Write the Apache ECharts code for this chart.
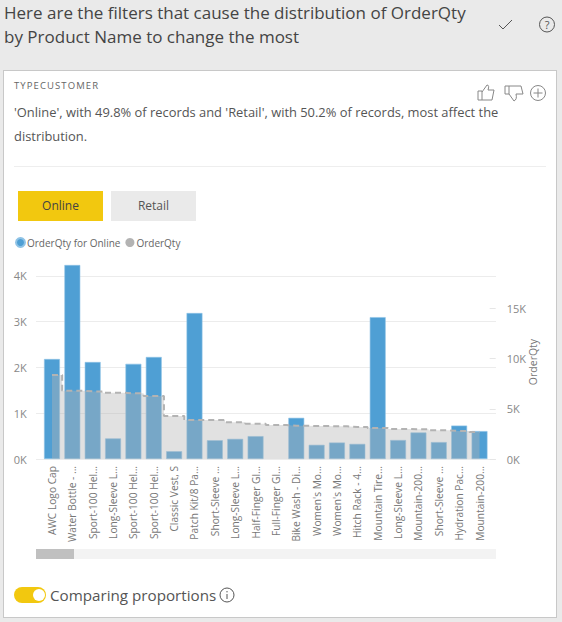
<!DOCTYPE html>
<html><head><meta charset="utf-8">
<style>
html,body{margin:0;padding:0;width:562px;height:622px;overflow:hidden;background:#eaeaea;font-family:"Open Sans",sans-serif;color:#555}
.a{position:absolute;white-space:nowrap}
#chart{position:absolute;left:0;top:0;width:562px;height:622px}
#card{position:absolute;left:3px;top:70px;width:552px;height:546px;background:#fff;border:1px solid #c8c8c8}
.btn{position:absolute;top:191px;width:85px;height:30px;line-height:29px;text-align:center;font-size:12px}
</style>
<script src="https://cdn.jsdelivr.net/npm/echarts@6/dist/echarts.min.js"></script>
</head><body>
<div id="card"></div>
<div class="a" style="left:4px;top:1px;font-size:17px;line-height:24px;color:#444">Here are the filters that cause the distribution of OrderQty<br>by Product Name to change the most</div>
<svg class="a" style="left:497px;top:16px" width="60" height="18" fill="none" stroke="#555">
  <path d="M2 9l4 4 9-9" stroke-width="1"/>
  <circle cx="50" cy="8.5" r="7.5"/>
  <text x="50" y="12.5" font-size="11" text-anchor="middle" fill="#555" stroke="none" font-family="Open Sans">?</text>
</svg>
<div class="a" style="left:14px;top:79px;font-size:9.5px;font-weight:500;letter-spacing:1.1px;color:#666">TYPECUSTOMER</div>
<svg class="a" style="left:476px;top:83px" width="72" height="20" fill="none" stroke="#888">
  <path d="M2 8h4v9H2zM6 9l5-7c2 0 2 2 1 5h6l-2 10H6"/>
  <path d="M29 11h4V3h-4zM33 3h12l2 8h-7c1 4 0 6-2 7l-5-7"/>
  <circle cx="62" cy="10" r="7.5"/><path d="M62 5.5v9M57.5 10h9"/>
</svg>
<div class="a" style="left:14px;top:101px;font-size:12.9px;line-height:23.5px;color:#555">'Online', with 49.8% of records and 'Retail', with 50.2% of records, most affect the<br>distribution.</div>
<div class="a" style="left:14px;top:166px;width:532px;height:1px;background:#eee"></div>
<div class="btn" style="left:18px;background:#f2c80f;color:#444">Online</div>
<div class="btn" style="left:111px;background:#eaeaea;color:#555">Retail</div>
<div id="chart"></div>
<div class="a" style="left:36px;top:549px;width:460px;height:10px;background:#f3f3f3"></div>
<div class="a" style="left:36px;top:549px;width:38px;height:10px;background:#c0c0c0"></div>
<div class="a" style="left:14px;top:587px;width:32px;height:16px;border-radius:8px;background:#f2c80f"></div>
<div class="a" style="left:33px;top:589px;width:12px;height:12px;border-radius:6px;background:#fff"></div>
<div class="a" style="left:50px;top:584px;font-size:15.2px;line-height:22px;color:#555">Comparing proportions</div>
<svg class="a" style="left:219px;top:587px" width="16" height="16" fill="none" stroke="#555">
  <circle cx="8" cy="8" r="7"/><path d="M8 7v5M8 4v1.4"/>
</svg>
<script>
const categories = ["AWC Logo Cap","Water Bottle - ...","Sport-100 Hel...","Long-Sleeve L...","Sport-100 Hel...","Sport-100 Hel...","Classic Vest, S","Patch Kit/8 Pa...","Short-Sleeve ...","Long-Sleeve L...","Half-Finger Gl...","Full-Finger Gl...","Bike Wash - Di...","Women's Mo...","Women's Mo...","Hitch Rack - 4...","Mountain Tire...","Long-Sleeve L...","Mountain-200...","Short-Sleeve ...","Hydration Pac...","Mountain-200..."];
const onlineQty = [2185,4240,2120,450,2080,2230,170,3190,410,440,500,null,900,310,360,330,3100,415,580,370,730,610];
const totalQty = [8360,6800,6730,6600,6540,6270,4280,3880,3880,3650,3520,3380,3320,3280,3250,3190,3090,2990,2950,2850,2790,2690];
const leftTicks = [0,1000,2000,3000,4000];
const rightTicks = [0,5000,10000,15000];
const kFmt = v => (v/1000)+'K';
const GT=265, GH=194, LMAX=4240, RMAX=19310;
const chart = echarts.init(document.getElementById('chart'),null,{renderer:'svg',width:562,height:622});
chart.setOption({
  animation:false,
  textStyle:{fontFamily:'"Open Sans",sans-serif'},
  legend:{left:10,top:232,itemWidth:9,itemHeight:9,itemGap:5,icon:'circle',
    textStyle:{fontSize:10,color:'#666',padding:[0,0,0,-3]},
    data:['OrderQty for Online','OrderQty']},
  grid:[
    {left:36,width:460,top:GT,height:GH,z:0},
    {left:41.8,width:447.9,top:GT,height:GH,z:1}
  ],
  xAxis:[
    {gridIndex:0,type:'category',data:categories,show:false},
    {gridIndex:1,type:'category',data:categories,boundaryGap:true,
      axisLine:{show:false},axisTick:{show:false},
      axisLabel:{interval:0,rotate:90,fontSize:10.2,color:'#777',margin:7,hideOverlap:false}}
  ],
  yAxis:[
    {gridIndex:0,type:'value',min:0,max:LMAX,interval:1000,axisLabel:{show:false},axisLine:{show:false},axisTick:{show:false},
      splitLine:{show:true,showMaxLine:false,lineStyle:{color:'#ececec',width:1.2}}},
    {gridIndex:1,type:'value',position:'left',min:0,max:LMAX,interval:1000,splitLine:{show:false},axisLine:{show:false},axisTick:{show:false},
      axisLabel:{margin:15,fontSize:11,color:'#888',formatter:kFmt,customValues:leftTicks}},
    {gridIndex:1,type:'value',position:'right',min:0,max:RMAX,interval:5000,splitLine:{show:false},axisLine:{show:false},
      axisTick:{show:true,length:6,lineStyle:{color:'#e6e6e6'},customValues:rightTicks},
      axisLabel:{margin:17,fontSize:11,color:'#888',formatter:kFmt,customValues:rightTicks},
      name:'OrderQty',nameLocation:'middle',nameRotate:90,nameGap:38,nameMoveOverlap:false,nameTextStyle:{fontSize:10.5,color:'#777'}}
  ],
  series:[
    {name:'OrderQty for Online',type:'bar',xAxisIndex:1,yAxisIndex:1,data:onlineQty,barWidth:'78%',z:2,
      itemStyle:{color:'#4f9fd4',borderColor:'#8fc3e6',borderWidth:0.6}},
    {name:'OrderQty',type:'line',xAxisIndex:1,yAxisIndex:2,data:totalQty,step:'middle',z:3,
      showSymbol:false,symbol:'none',
      itemStyle:{color:'#b3b3b3'},
      lineStyle:{color:'#b3b3b3',width:2,type:[6,4]},
      areaStyle:{color:'#b3b3b3',opacity:0.4}}
  ]
});
</script>
</body></html>
